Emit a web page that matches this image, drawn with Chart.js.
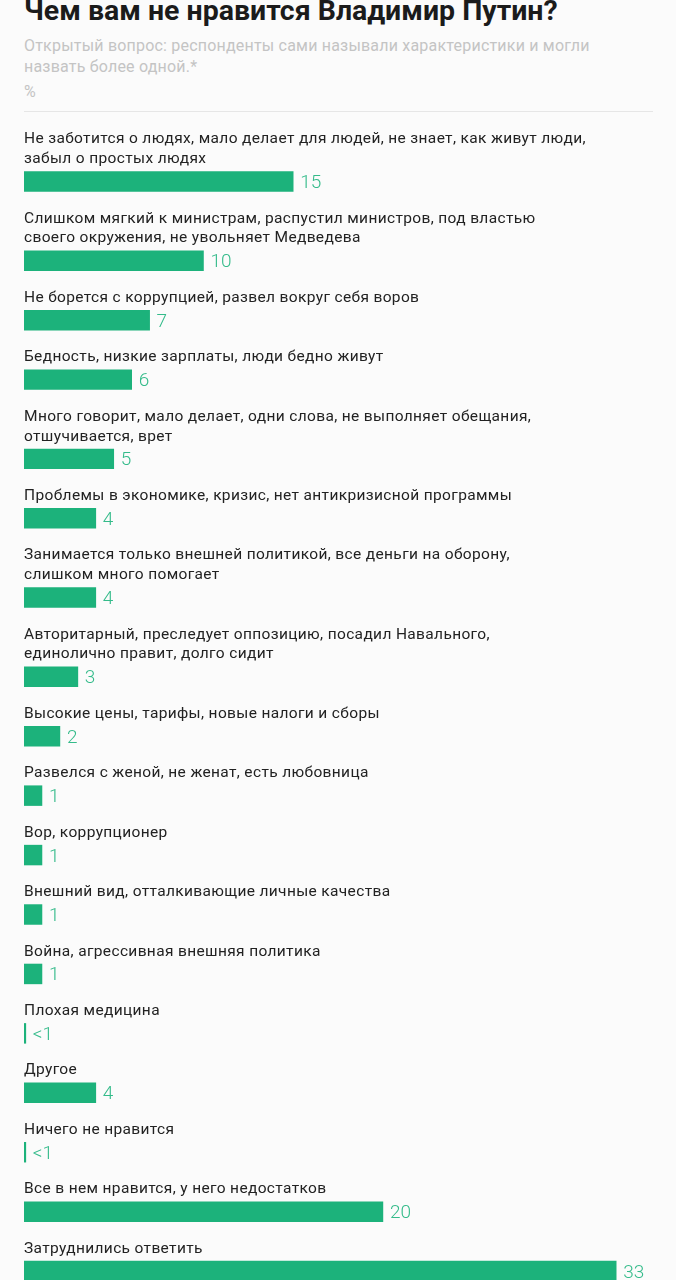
<!DOCTYPE html>
<html><head><meta charset="utf-8">
<script src="https://cdn.jsdelivr.net/npm/chart.js@4.4.1/dist/chart.umd.min.js"></script>
<style>
html,body{margin:0;padding:0;background:#fbfbfb;}
body{width:676px;height:1280px;overflow:hidden;position:relative;font-family:Roboto,sans-serif;}
#title{position:absolute;left:24px;top:-5px;font:700 28.5px/32px Roboto,sans-serif;color:#1b1b1b;white-space:nowrap;margin:0;}
#sub{position:absolute;left:24px;top:35px;font:400 16px/21px Roboto,sans-serif;letter-spacing:0.2px;color:#c4c4c4;white-space:nowrap;margin:0;}
#unit{position:absolute;left:24px;top:81px;font:400 16px/21px Roboto,sans-serif;color:#c4c4c4;margin:0;}
#sep{position:absolute;left:24px;top:111px;width:629px;height:1px;background:#e6e6e6;}
#wrap{position:absolute;left:0;top:132px;width:676px;height:1149px;}
</style></head>
<body>
<h1 id="title">Чем вам не нравится Владимир Путин?</h1>
<p id="sub">Открытый вопрос: респонденты сами называли характеристики и могли<br>назвать более одной.*</p>
<p id="unit">%</p>
<div id="sep"></div>
<div id="wrap"><canvas id="c"></canvas></div>
<script>
const categories = [
  ["Не заботится о людях, мало делает для людей, не знает, как живут люди,", "забыл о простых людях"],
  ["Слишком мягкий к министрам, распустил министров, под властью", "своего окружения, не увольняет Медведева"],
  ["Не борется с коррупцией, развел вокруг себя воров"],
  ["Бедность, низкие зарплаты, люди бедно живут"],
  ["Много говорит, мало делает, одни слова, не выполняет обещания,", "отшучивается, врет"],
  ["Проблемы в экономике, кризис, нет антикризисной программы"],
  ["Занимается только внешней политикой, все деньги на оборону,", "слишком много помогает"],
  ["Авторитарный, преследует оппозицию, посадил Навального,", "единолично правит, долго сидит"],
  ["Высокие цены, тарифы, новые налоги и сборы"],
  ["Развелся с женой, не женат, есть любовница"],
  ["Вор, коррупционер"],
  ["Внешний вид, отталкивающие личные качества"],
  ["Война, агрессивная внешняя политика"],
  ["Плохая медицина"],
  ["Другое"],
  ["Ничего не нравится"],
  ["Все в нем нравится, у него недостатков"],
  ["Затруднились ответить"]
];
const values = [15, 10, 7, 6, 5, 4, 4, 3, 2, 1, 1, 1, 1, 0.1, 4, 0.1, 20, 33];
const valueLabels = ["15", "10", "7", "6", "5", "4", "4", "3", "2", "1", "1", "1", "1", "<1", "4", "<1", "20", "33"];
const axisMax = 36;

// build row slots: label lines, bar, spacer
const slotText = [], slotData = [], slotValueText = [];
categories.forEach((lines, i) => {
  lines.forEach(l => { slotText.push(l); slotData.push(null); slotValueText.push(null); });
  slotText.push(null); slotData.push(values[i]); slotValueText.push(valueLabels[i]);
  if (i < categories.length - 1) { slotText.push(null); slotData.push(null); slotValueText.push(null); }
});
const slotIds = slotData.map((_, i) => String(i));

const rowText = {
  id: 'rowText',
  afterDatasetsDraw(chart) {
    const {ctx, chartArea, scales: {y}} = chart;
    ctx.save();
    ctx.textAlign = 'left';
    ctx.textBaseline = 'alphabetic';
    ctx.font = '400 15.5px Roboto, sans-serif';
    if ('letterSpacing' in ctx) ctx.letterSpacing = '0.35px';
    ctx.fillStyle = '#222222';
    slotText.forEach((t, i) => {
      if (!t) return;
      ctx.fillText(t, chartArea.left, y.getPixelForValue(i) + 1.5);
    });
    if ('letterSpacing' in ctx) ctx.letterSpacing = '0px';
    ctx.font = '300 19px Roboto, sans-serif';
    ctx.fillStyle = '#34bb8a';
    chart.getDatasetMeta(0).data.forEach((bar, i) => {
      const vt = slotValueText[i];
      if (!vt) return;
      ctx.fillText(vt, bar.x + 7, bar.y + 6.5);
    });
    ctx.restore();
  }
};

new Chart(document.getElementById('c'), {
  type: 'bar',
  data: {
    labels: slotIds,
    datasets: [{
      data: slotData,
      backgroundColor: '#1cb27b',
      borderWidth: 0,
      barPercentage: 1,
      categoryPercentage: 1
    }]
  },
  options: {
    indexAxis: 'y',
    responsive: true,
    maintainAspectRatio: false,
    animation: false,
    layout: {padding: {left: 24, right: 6, top: 0, bottom: 0}},
    plugins: {legend: {display: false}, tooltip: {enabled: false}},
    scales: {
      x: {type: 'linear', min: 0, max: axisMax, display: false},
      y: {type: 'category', display: false}
    }
  },
  plugins: [rowText]
});
</script>
</body></html>
